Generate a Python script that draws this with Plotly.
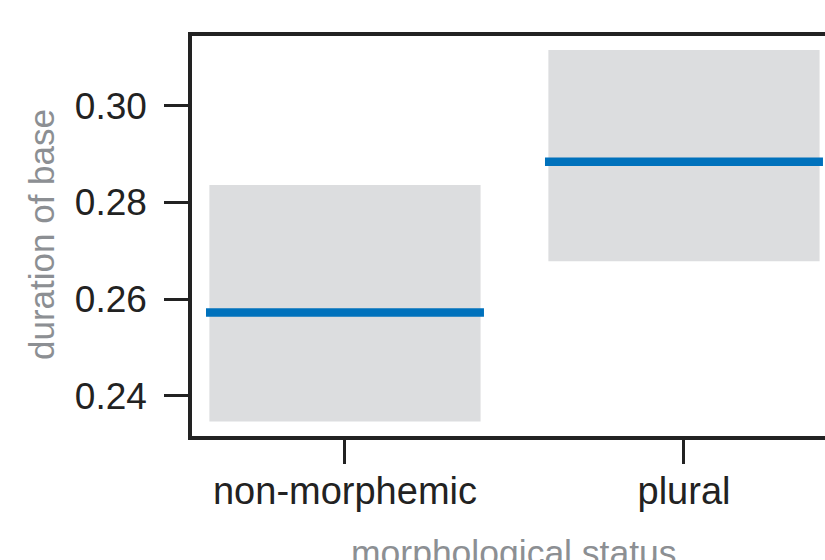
import plotly.graph_objects as go

categories = ["non-morphemic", "plural"]
means = [0.2572, 0.2884]
lower = [0.2347, 0.2678]
upper = [0.2836, 0.3115]
y_ticks = [0.24, 0.26, 0.28, 0.30]
y_ticktext = ["0.24", "0.26", "0.28", "0.30"]

FONT = "Liberation Sans, Arial, Helvetica, sans-serif"
DARK = "#222222"
GREY = "#8c8f93"
BOX = "#dcdddf"
BLUE = "#0071bc"

xpos = list(range(len(categories)))

fig = go.Figure()
fig.add_trace(go.Bar(
    x=xpos,
    y=[u - l for u, l in zip(upper, lower)],
    base=lower,
    width=0.8,
    marker=dict(color=BOX, line=dict(width=0)),
    hoverinfo="skip",
    showlegend=False,
))

lx, ly = [], []
for i, m in zip(xpos, means):
    lx += [i - 0.41, i + 0.41, None]
    ly += [m, m, None]
fig.add_trace(go.Scatter(
    x=lx, y=ly, mode="lines",
    line=dict(color=BLUE, width=8.5),
    showlegend=False, hoverinfo="skip",
))

fig.update_layout(
    width=825, height=560,
    margin=dict(l=192, r=0, t=36, b=124),
    paper_bgcolor="white", plot_bgcolor="white",
    font=dict(family=FONT, size=36, color=DARK),
    showlegend=False,
    xaxis=dict(
        range=[-0.4513, 1.416],
        tickvals=xpos, ticktext=categories,
        ticks="outside", ticklen=24, tickwidth=3, tickcolor=DARK,
        showline=True, mirror=True, linewidth=3.5, linecolor=DARK,
        showgrid=False, zeroline=False,
        tickfont=dict(size=38, color=DARK, family=FONT),
        ticklabelstandoff=-5,
    ),
    yaxis=dict(
        range=[0.23168, 0.31441],
        tickvals=y_ticks, ticktext=y_ticktext,
        ticks="outside", ticklen=24, tickwidth=3, tickcolor=DARK,
        showline=True, mirror=False, linewidth=3.5, linecolor=DARK,
        showgrid=False, zeroline=False,
        tickfont=dict(size=37, color=DARK, family=FONT),
        ticklabelstandoff=10,
    ),
    annotations=[
        dict(text="duration of base", xref="paper", yref="paper",
             x=-0.2385, y=0.5025, textangle=-90, showarrow=False,
             xanchor="center", yanchor="middle",
             font=dict(size=35, color=GREY, family=FONT)),
        dict(text="morphological status", xref="x", yref="paper",
             x=0.5, y=-0.2925, showarrow=False,
             xanchor="center", yanchor="middle",
             font=dict(size=35.5, color=GREY, family=FONT)),
    ],
)

fig.write_html(
    "out.html",
    config={"displayModeBar": False},
    post_script="document.body.style.margin='0';document.body.style.overflow='hidden';",
)
